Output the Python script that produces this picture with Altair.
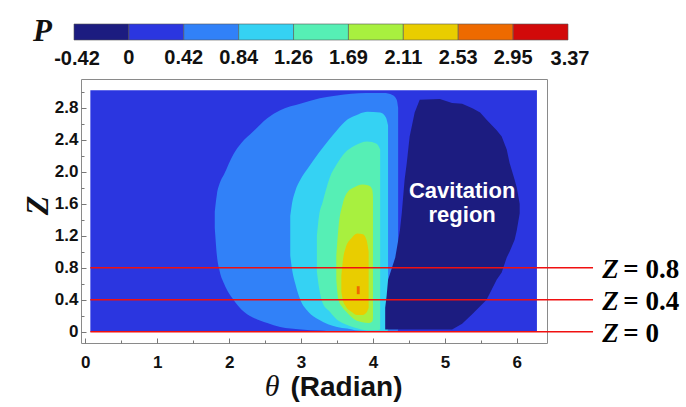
import altair as alt
import pandas as pd

# ---------------- data ----------------
P_LEVELS = [-0.42, 0.0, 0.42, 0.84, 1.26, 1.69, 2.11, 2.53, 2.95, 3.37]
P_COLORS = ["#1c1c80", "#2b36e0", "#3181f8", "#35d2f3", "#56efb5",
            "#a8f03f", "#e9cd00", "#ee6a00", "#d20a0a"]

# each band: representative pressure value, and outline as theta -> (Z_low, Z_high)
BASE_P = 0.21
BASE_T = [0.07, 6.28]
BASE_LO = [0.0, 0.0]
BASE_HI = [3.02, 3.02]

AZ_P = 0.63
AZ_T = [1.80, 1.83, 1.87, 1.93, 2.06, 2.17, 2.33, 2.53, 2.71, 3.00, 3.26, 3.50, 3.90, 4.15, 4.27, 4.33, 4.35]
AZ_LO = [1.30, 0.95, 0.75, 0.60, 0.40, 0.28, 0.18, 0.11, 0.06, 0.03, 0.015, 0.0, 0.0, 0.0, 0.0, 0.0, 0.02]
AZ_HI = [1.50, 1.72, 1.86, 1.97, 2.22, 2.36, 2.50, 2.67, 2.77, 2.855, 2.92, 2.955, 2.985, 2.985, 2.96, 2.90, 2.80]

CY_P = 1.05
CY_T = [2.85, 2.87, 2.92, 2.99, 3.10, 3.25, 3.50, 3.64, 3.75, 3.92, 4.10, 4.18, 4.21]
CY_LO = [0.95, 0.81, 0.60, 0.40, 0.25, 0.15, 0.06, 0.04, 0.02, 0.01, 0.0, 0.0, 0.02]
CY_HI = [1.45, 1.58, 1.76, 1.90, 2.05, 2.24, 2.52, 2.65, 2.70, 2.75, 2.74, 2.68, 2.58]

AQ_P = 1.47
AQ_T = [3.22, 3.25, 3.30, 3.40, 3.50, 3.60, 3.75, 3.92, 4.05, 4.10]
AQ_LO = [0.75, 0.55, 0.36, 0.25, 0.15, 0.10, 0.05, 0.02, 0.02, 0.03]
AQ_HI = [1.20, 1.45, 1.62, 1.93, 2.10, 2.23, 2.33, 2.38, 2.35, 2.28]

YG_P = 1.90
YG_T = [3.49, 3.52, 3.58, 3.65, 3.75, 3.85, 3.94, 3.99, 4.00]
YG_LO = [0.65, 0.40, 0.30, 0.23, 0.15, 0.12, 0.11, 0.13, 0.17]
YG_HI = [0.95, 1.30, 1.60, 1.75, 1.81, 1.84, 1.83, 1.78, 1.70]

GO_P = 2.32
GO_T = [3.56, 3.58, 3.62, 3.70, 3.78, 3.86, 3.91, 3.94]
GO_LO = [0.50, 0.40, 0.32, 0.25, 0.21, 0.21, 0.24, 0.30]
GO_HI = [0.70, 0.88, 1.05, 1.17, 1.23, 1.22, 1.15, 1.00]

OR_P = 2.74
OR_T = [3.775, 3.815]
OR_LO = [0.47, 0.47]
OR_HI = [0.57, 0.57]

CAV_P = -0.21
CAV_T = [4.17, 4.19, 4.21, 4.31, 4.375, 4.40, 4.44, 4.47, 4.51, 4.58, 4.65, 4.93, 5.10, 5.24, 5.39,
         5.49, 5.58, 5.72, 5.79, 5.86, 5.90, 5.97, 6.00, 6.04]
CAV_LO = [0.03, 0.03, 0.03, 0.03, 0.03, 0.03, 0.03, 0.03, 0.03, 0.03, 0.03, 0.03, 0.03, 0.10, 0.23,
          0.32, 0.40, 0.65, 0.74, 0.93, 1.00, 1.15, 1.27, 1.48]
CAV_HI = [0.30, 0.45, 0.65, 0.93, 1.27, 1.48, 1.90, 2.11, 2.44, 2.74, 2.90, 2.91, 2.86, 2.85, 2.79,
          2.74, 2.65, 2.52, 2.44, 2.28, 2.11, 1.90, 1.80, 1.60]

Z_LINES = [0.8, 0.4, 0.0]
Z_LINE_TEXT = ["= 0.8", "= 0.4", "= 0"]
LINE_START = 0.07
LINE_END = 7.06
LABEL_THETA = 7.19

CAV_TEXT = ["Cavitation", "region"]
CAV_TEXT_THETA = [5.24, 5.24]
CAV_TEXT_Z = [1.765, 1.455]

LEGEND_END_LABELS = ["-0.42", "3.37"]
LEGEND_END_X = [-4, 489]

X_TICKS = [0, 0.5, 1, 1.5, 2, 2.5, 3, 3.5, 4, 4.5, 5, 5.5, 6]
Y_TICKS = [0, 0.2, 0.4, 0.6, 0.8, 1.0, 1.2, 1.4, 1.6, 1.8, 2.0, 2.2, 2.4, 2.6, 2.8, 3.0]

X_DOMAIN = [-0.06, 6.42]
Y_DOMAIN = [-0.14, 3.16]


def band(value, ts, lo, hi):
    return pd.DataFrame({"P": value, "theta": ts, "Z": lo, "Z2": hi})


SANS = "Liberation Sans"
SERIF = "Liberation Serif"


def build(fancy_ticks):
    if fancy_ticks:
        xtick = {"condition": {"test": "datum.value % 1 === 0", "value": -5}, "value": -3}
        ytick = {"condition": {"test": "round(datum.value * 10) % 4 === 0", "value": -5}, "value": -3}
        lpad_x, lpad_y = 16, 8
    else:
        xtick, ytick = 4, 4
        lpad_x, lpad_y = 9, 4

    xaxis = alt.Axis(
        values=X_TICKS, labelExpr="datum.value % 1 === 0 ? format(datum.value, 'd') : ''",
        tickSize=xtick, tickColor="#777", domain=False, grid=False,
        labelFont=SANS, labelFontWeight="bold", labelFontSize=17, labelColor="#111",
        labelPadding=lpad_x, labelOverlap=False, labelFlush=False,
        title="(Radian)", titleFont=SANS, titleFontWeight="bold", titleFontSize=28,
        titleColor="#111", titleX=209, titleY=44, titleAlign="left", titleBaseline="middle",
    )
    yaxis = alt.Axis(
        values=Y_TICKS,
        labelExpr="round(datum.value * 10) % 4 === 0 ? (datum.value === 0 ? '0' : format(datum.value, '.1f')) : ''",
        tickSize=ytick, tickColor="#777", domain=False, grid=False,
        labelFont=SANS, labelFontWeight="bold", labelFontSize=17, labelColor="#111",
        labelPadding=lpad_y, labelOverlap=False, labelFlush=False,
        title="Z", titleFont=SERIF, titleFontStyle="italic", titleFontWeight="bold",
        titleFontSize=32, titleColor="#111", titleX=-44, titleY=126, titleAngle=270,
        titleAlign="center", titleBaseline="middle",
    )
    legend = alt.Legend(
        type="gradient", orient="none", direction="horizontal",
        legendX=-48, legendY=-55, gradientLength=494, gradientThickness=16,
        gradientStrokeColor="#555", gradientStrokeWidth=0.6,
        title="P", titleOrient="left", titleFont=SERIF, titleFontStyle="italic",
        titleFontWeight="bold", titleFontSize=31, titleColor="#111", titlePadding=22,
        labelFont=SANS, labelFontWeight="bold", labelFontSize=20, labelColor="#111",
        labelAlign="center", labelOverlap=False, labelOffset=8, padding=0,
        labelExpr="!isFinite(datum.value) ? '' : (abs(datum.value) < 0.01 ? '0' : format(datum.value, '.2f'))",
    )

    xscale = alt.Scale(domain=X_DOMAIN, nice=False, zero=False)
    X = alt.X("theta:Q", scale=xscale, axis=xaxis)
    Y = alt.Y("Z:Q", scale=alt.Scale(domain=Y_DOMAIN, nice=False, zero=False), axis=yaxis)
    Y2 = alt.Y2("Z2:Q")
    C = alt.Color("P:Q", scale=alt.Scale(type="quantize", domain=[P_LEVELS[0], P_LEVELS[-1]], range=P_COLORS),
                  legend=legend)

    layers = []
    bands = [
        (band(BASE_P, BASE_T, BASE_LO, BASE_HI), "linear"),
        (band(AZ_P, AZ_T, AZ_LO, AZ_HI), "monotone"),
        (band(CY_P, CY_T, CY_LO, CY_HI), "monotone"),
        (band(AQ_P, AQ_T, AQ_LO, AQ_HI), "monotone"),
        (band(YG_P, YG_T, YG_LO, YG_HI), "monotone"),
        (band(GO_P, GO_T, GO_LO, GO_HI), "monotone"),
        (band(OR_P, OR_T, OR_LO, OR_HI), "linear"),
        (band(CAV_P, CAV_T, CAV_LO, CAV_HI), "linear"),
    ]
    for df, interp in bands:
        layers.append(
            alt.Chart(df).mark_area(interpolate=interp)
            .encode(x=X, y=Y, y2=Y2, color=C)
        )

    lines_df = pd.DataFrame({"Z": Z_LINES, "theta": [LINE_START] * len(Z_LINES),
                             "theta2": [LINE_END] * len(Z_LINES), "lab": Z_LINE_TEXT,
                             "tx": [LABEL_THETA] * len(Z_LINES)})
    layers.append(
        alt.Chart(lines_df).mark_rule(color="#f01010", strokeWidth=1.6)
        .encode(x=X, x2=alt.X2("theta2:Q"), y=Y)
    )
    XT = alt.X("tx:Q", scale=xscale, axis=xaxis)
    layers.append(
        alt.Chart(lines_df).mark_text(text="Z", font=SERIF, fontStyle="italic", fontWeight="bold",
                                      fontSize=27, align="left", baseline="middle", dy=2, color="#000")
        .encode(x=XT, y=Y)
    )
    layers.append(
        alt.Chart(lines_df).mark_text(font=SERIF, fontWeight="bold", fontSize=27, align="left",
                                      baseline="middle", dx=21, dy=2, color="#000")
        .encode(x=XT, y=Y, text="lab:N")
    )

    cav_df = pd.DataFrame({"theta": CAV_TEXT_THETA, "Z": CAV_TEXT_Z, "lab": CAV_TEXT})
    layers.append(
        alt.Chart(cav_df).mark_text(font=SANS, fontWeight="bold", fontSize=22, color="white",
                                    align="center", baseline="middle")
        .encode(x=X, y=Y, text="lab:N")
    )

    theta_df = pd.DataFrame({"t": ["\u03b8"]})
    layers.append(
        alt.Chart(theta_df).mark_text(font=SERIF, fontStyle="italic", fontSize=30, color="#111",
                                      align="center", baseline="middle")
        .encode(x=alt.value(191), y=alt.value(308), text="t:N")
    )

    for lab, px in zip(LEGEND_END_LABELS, LEGEND_END_X):
        end_df = pd.DataFrame({"t": [lab]})
        layers.append(
            alt.Chart(end_df).mark_text(font=SANS, fontWeight="bold", fontSize=20, color="#111",
                                        align="center", baseline="middle")
            .encode(x=alt.value(px), y=alt.value(-20), text="t:N")
        )

    chart = alt.layer(*layers).properties(
        width=466, height=264,
        padding={"left": 81, "top": 79, "right": 139, "bottom": 64},
        autosize=alt.AutoSizeParams(type="none"),
        background="white",
    ).configure_view(stroke="#8a8a8a", strokeWidth=1)
    return chart


chart = build(True)
try:
    chart.to_dict()
except Exception:
    chart = build(False)

chart.save("out.html", embed_options={"renderer": "svg", "actions": False})
